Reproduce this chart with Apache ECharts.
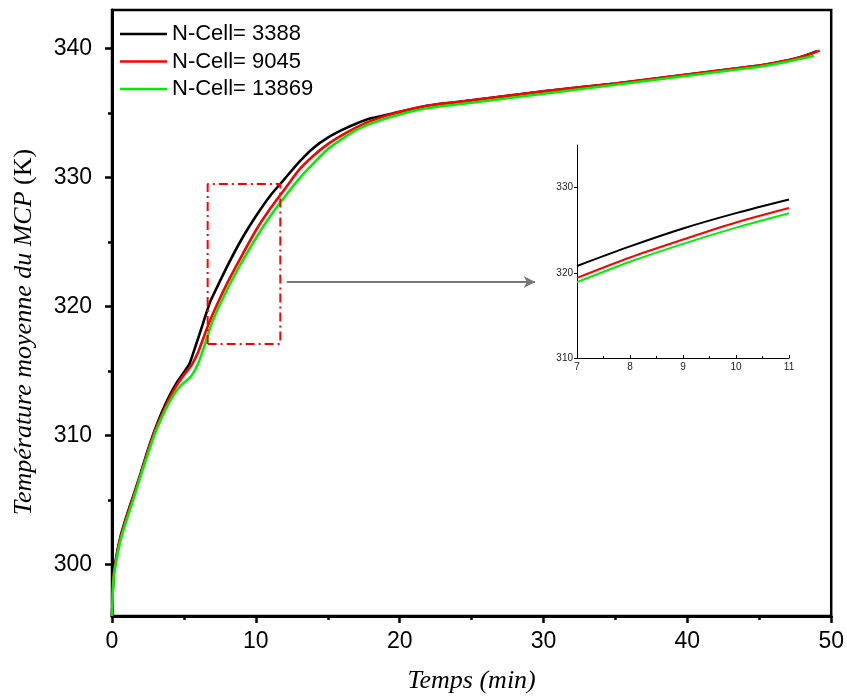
<!DOCTYPE html>
<html><head><meta charset="utf-8">
<script src="https://cdn.jsdelivr.net/npm/echarts@6/dist/echarts.min.js"></script>
<style>html,body{margin:0;padding:0;background:#fff}#c{width:847px;height:699px}</style>
</head><body><div id="c"></div>
<script>
const seriesNames = ['N-Cell= 3388', 'N-Cell= 9045', 'N-Cell= 13869'];
const seriesColors = ['#000000', '#ff0000', '#00ee00'];

const timeBlack = [0, 0.1, 0.3, 0.6, 1.0, 1.5, 2.0, 2.5, 3.0, 3.5, 4.0, 4.5, 5.0, 5.4, 5.8, 6.3, 6.8, 7, 8, 9, 10, 11, 12, 13, 14, 15, 16, 17, 18, 20, 22, 25, 30, 35, 40, 45, 47, 48, 49];
const tempBlack = [296.0, 299.0, 300.6, 302.2, 303.7, 305.4, 307.1, 308.9, 310.5, 311.9, 313.1, 314.1, 314.9, 315.6, 316.9, 318.6, 320.3, 320.8, 323.1, 325.2, 327.0, 328.6, 329.9, 331.2, 332.3, 333.1, 333.7, 334.2, 334.6, 335.1, 335.6, 336.0, 336.7, 337.3, 338.0, 338.7, 339.1, 339.4, 339.8];

const timeRed = [0, 0.1, 0.3, 0.6, 1.0, 1.5, 2.0, 2.5, 3.0, 3.5, 4.0, 4.5, 5.0, 5.5, 6.0, 6.5, 7, 8, 9, 10, 11, 12, 13, 14, 15, 16, 17, 18, 20, 22, 25, 30, 35, 40, 45, 47, 48, 49.2];
const tempRed = [296.0, 299.0, 300.5, 302.1, 303.6, 305.3, 307.0, 308.8, 310.4, 311.7, 312.9, 313.9, 314.7, 315.4, 316.5, 318.0, 319.4, 321.8, 323.9, 325.9, 327.6, 329.1, 330.6, 331.7, 332.6, 333.3, 333.9, 334.4, 335.1, 335.6, 336.0, 336.7, 337.3, 338.0, 338.7, 339.1, 339.4, 339.85];

const timeGreen = [0, 0.1, 0.3, 0.6, 1.0, 1.5, 2.0, 2.5, 3.0, 3.5, 4.0, 4.5, 5.0, 5.5, 6.0, 6.5, 7, 8, 9, 10, 11, 12, 13, 14, 15, 16, 17, 18, 20, 22, 25, 30, 35, 40, 45, 47, 48.8];
const tempGreen = [296.0, 298.8, 300.3, 301.9, 303.4, 305.1, 306.9, 308.6, 310.2, 311.5, 312.6, 313.5, 314.1, 314.6, 315.6, 317.2, 318.9, 321.3, 323.4, 325.3, 327.0, 328.5, 329.9, 331.1, 332.2, 333.0, 333.7, 334.2, 334.9, 335.4, 335.8, 336.5, 337.2, 337.9, 338.6, 339.0, 339.45];

const xTicks = [0, 10, 20, 30, 40, 50];
const yTicks = [300, 310, 320, 330, 340];
const yMinorTicks = [305, 315, 325, 335];
const insetXTicks = [7, 8, 9, 10, 11];
const insetYTicks = [310, 320, 330];

const zoomBoxTime = [6.65, 11.7];
const zoomBoxTemp = [317.1, 329.5];
const arrowTime = [12.15, 29.4];
const arrowTemp = 321.9;

const times = [timeBlack, timeRed, timeGreen];
const temps = [tempBlack, tempRed, tempGreen];
const pairs = times.map((t, i) => t.map((v, j) => [v, temps[i][j]]));

const chart = echarts.init(document.getElementById('c'), null, {renderer: 'canvas'});
const sans = 'Liberation Sans';
const serif = 'Liberation Serif';

const mainSeries = pairs.map((d, i) => ({
  name: seriesNames[i], type: 'line', xAxisIndex: 0, yAxisIndex: 0,
  data: d, symbol: 'none', showSymbol: false, smooth: 0.2,
  lineStyle: {color: seriesColors[i], width: 2.6}, itemStyle: {color: seriesColors[i]}, z: 3 + i
}));
const insetSeries = pairs.map((d, i) => ({
  name: seriesNames[i] + ' (zoom)', type: 'line', xAxisIndex: 1, yAxisIndex: 2,
  data: d.filter(p => p[0] >= 6.9 && p[0] <= 11.1), symbol: 'none', smooth: 0.3,
  lineStyle: {color: seriesColors[i], width: 2}, itemStyle: {color: seriesColors[i]}, z: 3 + i
}));

const boxData = [
  [zoomBoxTime[0], zoomBoxTemp[0]], [zoomBoxTime[1], zoomBoxTemp[0]],
  [zoomBoxTime[1], zoomBoxTemp[1]], [zoomBoxTime[0], zoomBoxTemp[1]],
  [zoomBoxTime[0], zoomBoxTemp[0]]
];

const option = {
  animation: false,
  backgroundColor: '#fff',
  grid: [
    {left: 112, right: 15, top: 10, bottom: 83, show: true, borderColor: '#000', borderWidth: 2.5},
    {left: 577, right: 58, top: 145, bottom: 341}
  ],
  legend: {
    data: seriesNames, orient: 'vertical', left: 120, top: 23, padding: 0,
    icon: 'rect', itemWidth: 47, itemHeight: 2.5, itemGap: 5.5,
    textStyle: {fontFamily: sans, fontSize: 22, color: '#000'}
  },
  xAxis: [
    {type: 'value', gridIndex: 0, min: 0, max: 50, interval: 10,
      name: 'Temps (min)', nameLocation: 'middle', nameGap: 52,
      nameTextStyle: {fontFamily: serif, fontStyle: 'italic', fontSize: 26, color: '#000'},
      axisLine: {lineStyle: {color: '#000', width: 3}},
      axisTick: {show: true, inside: false, length: 7, lineStyle: {width: 2.5, color: '#000'}},
      minorTick: {show: true, splitNumber: 2, length: 4, lineStyle: {width: 2.5, color: '#000'}},
      axisLabel: {fontFamily: sans, fontSize: 23, color: '#000', margin: 14},
      splitLine: {show: false}},
    {type: 'value', gridIndex: 1, min: 7, max: 11, interval: 1,
      axisLine: {lineStyle: {color: '#000', width: 1}},
      axisTick: {show: true, inside: true, length: 3, lineStyle: {color: '#000'}},
      minorTick: {show: true, splitNumber: 2, length: 2, lineStyle: {color: '#000'}},
      axisLabel: {fontFamily: sans, fontSize: 10, color: '#222', margin: 4, customValues: insetXTicks},
      splitLine: {show: false}}
  ],
  yAxis: [
    {type: 'value', gridIndex: 0, min: 296, max: 343, position: 'left',
      axisLine: {lineStyle: {color: '#000', width: 3}},
      axisTick: {show: true, inside: false, length: 7, customValues: yTicks, lineStyle: {width: 2.5, color: '#000'}},
      axisLabel: {fontFamily: sans, fontSize: 23, color: '#000', margin: 20, customValues: yTicks},
      splitLine: {show: false}},
    {type: 'value', gridIndex: 0, min: 296, max: 343, position: 'left',
      axisLine: {show: false},
      axisTick: {show: true, inside: false, length: 4, customValues: yMinorTicks, lineStyle: {width: 2.5, color: '#000'}},
      axisLabel: {show: false, customValues: yMinorTicks},
      splitLine: {show: false}},
    {type: 'value', gridIndex: 1, min: 310, max: 335,
      axisLine: {lineStyle: {color: '#000', width: 1}},
      axisTick: {show: true, inside: false, length: 3, customValues: insetYTicks, lineStyle: {color: '#000'}},
      axisLabel: {fontFamily: sans, fontSize: 10, color: '#222', margin: 4, customValues: insetYTicks},
      splitLine: {show: false}}
  ],
  series: mainSeries.concat(insetSeries, [
    {name: 'box', type: 'line', xAxisIndex: 0, yAxisIndex: 0, data: boxData, symbol: 'none',
      lineStyle: {color: '#ff0000', width: 2, type: [9, 4, 2, 4]}, z: 6,
      markLine: {
        silent: true, symbol: ['none', 'arrow'], symbolSize: [9, 11],
        label: {show: false},
        lineStyle: {color: '#777', width: 2, type: 'solid'},
        data: [[{coord: [arrowTime[0], arrowTemp]}, {coord: [arrowTime[1], arrowTemp]}]]
      }}
  ]),
  graphic: [{
    type: 'text', x: 24, y: 332, rotation: Math.PI / 2,
    style: {
      text: '{i|Température moyenne du }{i|MCP }{n|(K)}',
      align: 'center', verticalAlign: 'middle',
      rich: {
        i: {fontFamily: serif, fontStyle: 'italic', fontSize: 26, fill: '#000'},
        n: {fontFamily: serif, fontSize: 26, fill: '#000'}
      }
    }
  }]
};
chart.setOption(option);
</script>
</body></html>
